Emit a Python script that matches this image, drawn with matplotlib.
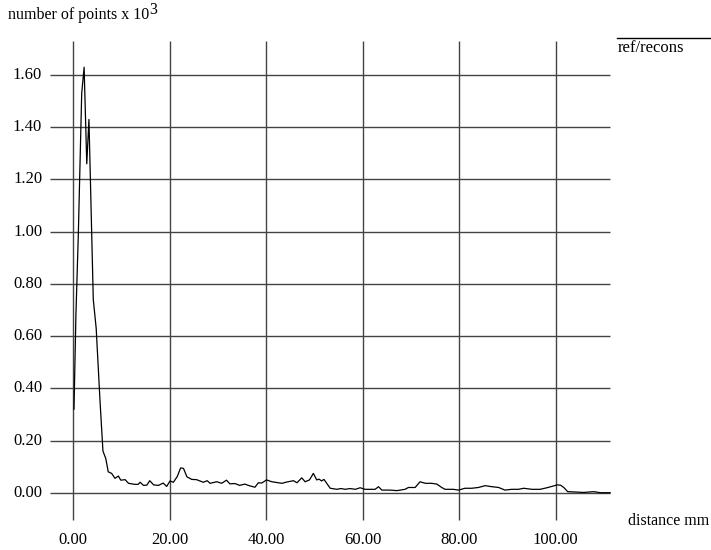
import matplotlib
matplotlib.use("Agg")
import matplotlib.pyplot as plt
from matplotlib.transforms import offset_copy

# -----------------------------
# DATA
# -----------------------------
distance = [0.2, 0.6, 1.1, 1.8, 2.3, 2.85, 3.3, 4.2, 4.8, 5.6, 6.2, 6.8, 7.3, 8.0,
            8.7, 9.4, 9.9, 10.8, 11.5, 12.8, 13.5, 13.9, 14.6, 15.3, 15.9, 16.7,
            17.7, 18.7, 19.4, 20.1, 20.8, 21.6, 22.3, 22.9, 23.6, 24.6, 25.6, 27.0,
            27.8, 28.4, 29.8, 30.8, 31.8, 32.5, 33.6, 34.5, 35.6, 36.5, 37.7, 38.4,
            39.1, 40.1, 41.2, 43.3, 44.3, 45.7, 46.4, 47.4, 48.1, 49.0, 49.8, 50.5,
            51.0, 51.5, 52.0, 53.3, 54.7, 55.5, 56.4, 57.4, 58.5, 59.5, 60.5, 62.6,
            63.3, 64.0, 65.7, 67.1, 68.8, 69.5, 70.9, 71.9, 73.0, 74.3, 75.4, 76.4,
            77.1, 78.8, 79.9, 81.2, 82.6, 84.0, 85.4, 86.8, 88.2, 89.5, 90.9, 92.3,
            93.4, 95.1, 96.8, 98.2, 99.6, 100.3, 101.0, 101.7, 102.5, 103.7, 105.8,
            107.9, 109.3, 111.3]
points = [0.32, 0.68, 0.99, 1.53, 1.63, 1.26, 1.43, 0.74, 0.63, 0.35, 0.16, 0.13,
          0.08, 0.074, 0.055, 0.064, 0.048, 0.050, 0.036, 0.032, 0.032, 0.040,
          0.028, 0.029, 0.046, 0.030, 0.028, 0.037, 0.024, 0.045, 0.040, 0.062,
          0.095, 0.093, 0.061, 0.051, 0.050, 0.040, 0.046, 0.036, 0.042, 0.036,
          0.048, 0.034, 0.035, 0.028, 0.033, 0.027, 0.021, 0.038, 0.037, 0.049,
          0.042, 0.036, 0.041, 0.046, 0.038, 0.057, 0.042, 0.049, 0.074, 0.049,
          0.052, 0.045, 0.051, 0.017, 0.013, 0.016, 0.013, 0.016, 0.013, 0.019,
          0.013, 0.013, 0.023, 0.010, 0.010, 0.008, 0.013, 0.020, 0.020, 0.042,
          0.036, 0.036, 0.033, 0.020, 0.013, 0.013, 0.010, 0.017, 0.017, 0.020,
          0.027, 0.023, 0.020, 0.010, 0.013, 0.013, 0.017, 0.013, 0.013, 0.019,
          0.026, 0.030, 0.029, 0.020, 0.004, 0.003, 0.001, 0.004, 0.0, 0.0]

x_ticks = [0, 20, 40, 60, 80, 100]
y_ticks = [0.0, 0.2, 0.4, 0.6, 0.8, 1.0, 1.2, 1.4, 1.6]

# -----------------------------
# FIGURE
# -----------------------------
plt.rcParams['font.family'] = ['Liberation Serif', 'DejaVu Serif']

fig = plt.figure(figsize=(7.11, 5.5), dpi=100)
ax = fig.add_axes([0, 0, 1, 1])
ax.set_xlim(-15.13, 132.2)
ax.set_ylim(-0.2195, 1.8877)
ax.axis('off')

grid_col = '#444444'
ax.hlines(y_ticks, -4.8, 111.3, color=grid_col, lw=1.0)
ax.vlines(x_ticks, -0.105, 1.73, color=grid_col, lw=1.0)

ax.plot(distance, points, color='black', lw=0.9)

for y in y_ticks:
    ax.text(-6.4, y, "%.2f" % y, ha='right', va='center', fontsize=12)
for x in x_ticks:
    ax.text(x, -0.181, "%.2f" % x, ha='center', va='center', fontsize=12)

ax.text(709, 29, "distance mm", ha='right', va='center', fontsize=11.5,
        transform=None)

# y title with a large superscript
ytitle = ax.text(8, 535, "number of points x 10", ha='left', va='center',
                 fontsize=11.5, transform=None)
fig.canvas.draw()
bb = ytitle.get_window_extent()
ax.text(bb.x1 + 0.5, 540, "3", ha='left', va='center', fontsize=11.5,
        transform=None)

# legend
ax.plot([112.75, 132.0], [1.742, 1.742], color='black', lw=1.0)
ax.text(112.9, 1.703, "ref/recons", ha='left', va='center', fontsize=12)

fig.savefig("out.png", dpi=100)
